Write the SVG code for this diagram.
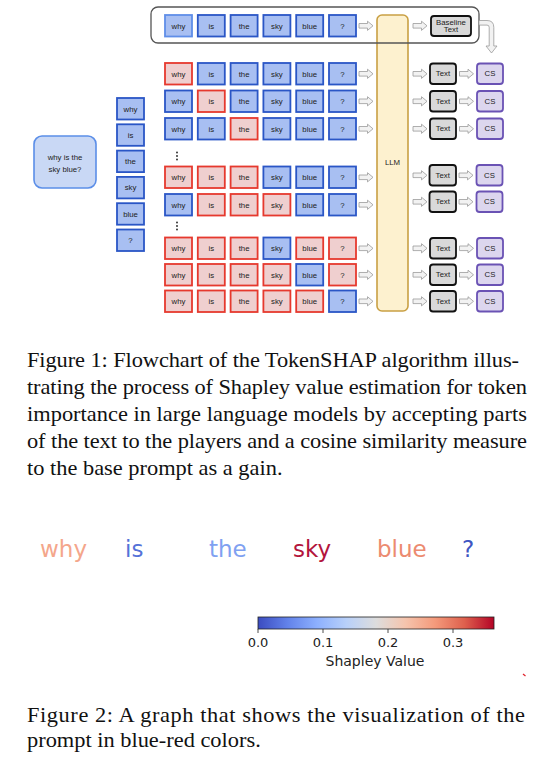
<svg xmlns="http://www.w3.org/2000/svg" width="537" height="758" viewBox="0 0 537 758">
<style>
.b{fill:#a8bff2;stroke:#2a56c6;stroke-width:1.8}
.r{fill:#efcfcf;stroke:#e6392e;stroke-width:1.8}
.tk{font-family:"Liberation Sans",Arial,sans-serif;font-size:7.8px;fill:#222;text-anchor:middle}
.tx{fill:#d9d9d9;stroke:#111;stroke-width:1.8}
.cs{fill:#dcd6ee;stroke:#6a52b4;stroke-width:1.8}
.ar{fill:#f2f2f2;stroke:#9a9a9a;stroke-width:0.8}
.cap{font-family:"Liberation Serif","Times New Roman",serif;font-size:20px;fill:#111}
.dj{font-family:"DejaVu Sans",sans-serif}
</style>
<defs>
<path id="ha" d="M0,-2.3 H8.5 V-4.6 L14,0 L8.5,4.6 V2.3 H0 Z"/>
<linearGradient id="cw" x1="0" y1="0" x2="1" y2="0">
<stop offset="0" stop-color="#3b4cc0"/>
<stop offset="0.125" stop-color="#6282ea"/>
<stop offset="0.25" stop-color="#8db0fe"/>
<stop offset="0.375" stop-color="#b8d0f9"/>
<stop offset="0.5" stop-color="#dddddd"/>
<stop offset="0.625" stop-color="#f5c4ad"/>
<stop offset="0.75" stop-color="#f49a7b"/>
<stop offset="0.875" stop-color="#de604d"/>
<stop offset="1" stop-color="#b40426"/>
</linearGradient>
</defs>

<!-- LLM -->
<g id="llm">
<rect x="377" y="15" width="31" height="296" rx="5" fill="#fdf1cf" stroke="#c9a044" stroke-width="1.6"/>
<text x="392.5" y="165" class="tk" font-size="7">LLM</text>
</g>

<!-- baseline container -->
<g id="baseline-group">
<rect x="151" y="7" width="328" height="36" rx="7" fill="none" stroke="#555" stroke-width="1.3"/>
</g>

<!-- input prompt -->
<g id="prompt">
<rect x="34" y="136" width="62" height="52" rx="8" fill="#c9d8f5" stroke="#5b8ee8" stroke-width="1.6"/>
<text x="65" y="160" class="tk" font-size="9.4">why is the</text>
<text x="65" y="171.5" class="tk" font-size="9.4">sky blue?</text>
</g>

<!-- token column -->
<g id="col-why"><rect class="b" x="117" y="98" width="27" height="21.5"/><text class="tk" x="130.5" y="111.5">why</text></g>
<g id="col-is"><rect class="b" x="117" y="124.3" width="27" height="21.5"/><text class="tk" x="130.5" y="137.8">is</text></g>
<g id="col-the"><rect class="b" x="117" y="150.6" width="27" height="21.5"/><text class="tk" x="130.5" y="164.1">the</text></g>
<g id="col-sky"><rect class="b" x="117" y="176.9" width="27" height="21.5"/><text class="tk" x="130.5" y="190.4">sky</text></g>
<g id="col-blue"><rect class="b" x="117" y="203.2" width="27" height="21.5"/><text class="tk" x="130.5" y="216.7">blue</text></g>
<g id="col-q"><rect class="b" x="117" y="229.5" width="27" height="21.5"/><text class="tk" x="130.5" y="243">?</text></g>

<!-- top baseline row -->
<g id="r0-why"><rect class="b" style="stroke:#5f8ee8" x="165" y="15" width="27" height="21.5"/><text class="tk" x="178.5" y="28.5">why</text></g>
<g id="r0-is"><rect class="b" x="197.8" y="15" width="27" height="21.5"/><text class="tk" x="211.3" y="28.5">is</text></g>
<g id="r0-the"><rect class="b" x="230.6" y="15" width="27" height="21.5"/><text class="tk" x="244.1" y="28.5">the</text></g>
<g id="r0-sky"><rect class="b" x="263.4" y="15" width="27" height="21.5"/><text class="tk" x="276.9" y="28.5">sky</text></g>
<g id="r0-blue"><rect class="b" x="296.2" y="15" width="27" height="21.5"/><text class="tk" x="309.7" y="28.5">blue</text></g>
<g id="r0-q"><rect class="b" x="329" y="15" width="27" height="21.5"/><text class="tk" x="342.5" y="28.5">?</text></g>
<g id="baseline-text"><rect class="tx" x="431" y="16" width="40" height="20" rx="3"/><text class="tk" x="451" y="24.5" font-size="6">Baseline</text><text class="tk" x="451" y="32" font-size="6">Text</text></g>

<!-- row 1 -->
<g id="r1-why"><rect class="r" x="165" y="63" width="27" height="21.5"/><text class="tk" x="178.5" y="76.5">why</text></g>
<g id="r1-is"><rect class="b" x="197.8" y="63" width="27" height="21.5"/><text class="tk" x="211.3" y="76.5">is</text></g>
<g id="r1-the"><rect class="b" x="230.6" y="63" width="27" height="21.5"/><text class="tk" x="244.1" y="76.5">the</text></g>
<g id="r1-sky"><rect class="b" x="263.4" y="63" width="27" height="21.5"/><text class="tk" x="276.9" y="76.5">sky</text></g>
<g id="r1-blue"><rect class="b" x="296.2" y="63" width="27" height="21.5"/><text class="tk" x="309.7" y="76.5">blue</text></g>
<g id="r1-q"><rect class="b" x="329" y="63" width="27" height="21.5"/><text class="tk" x="342.5" y="76.5">?</text></g>
<g id="r1-text"><rect class="tx" x="430" y="63.5" width="26" height="20.5" rx="3"/><text class="tk" x="443" y="76" font-size="6.4">Text</text></g>
<g id="r1-cs"><rect class="cs" x="477" y="63.5" width="26" height="20.5" rx="3"/><text class="tk" x="490" y="76.3" font-size="6.8">CS</text></g>

<!-- row 2 -->
<g id="r2-why"><rect class="b" x="165" y="90.5" width="27" height="21.5"/><text class="tk" x="178.5" y="104">why</text></g>
<g id="r2-is"><rect class="r" x="197.8" y="90.5" width="27" height="21.5"/><text class="tk" x="211.3" y="104">is</text></g>
<g id="r2-the"><rect class="b" x="230.6" y="90.5" width="27" height="21.5"/><text class="tk" x="244.1" y="104">the</text></g>
<g id="r2-sky"><rect class="b" x="263.4" y="90.5" width="27" height="21.5"/><text class="tk" x="276.9" y="104">sky</text></g>
<g id="r2-blue"><rect class="b" x="296.2" y="90.5" width="27" height="21.5"/><text class="tk" x="309.7" y="104">blue</text></g>
<g id="r2-q"><rect class="b" x="329" y="90.5" width="27" height="21.5"/><text class="tk" x="342.5" y="104">?</text></g>
<g id="r2-text"><rect class="tx" x="430" y="91" width="26" height="20.5" rx="3"/><text class="tk" x="443" y="103.5" font-size="6.4">Text</text></g>
<g id="r2-cs"><rect class="cs" x="477" y="91" width="26" height="20.5" rx="3"/><text class="tk" x="490" y="103.8" font-size="6.8">CS</text></g>

<!-- row 3 -->
<g id="r3-why"><rect class="b" x="165" y="118" width="27" height="21.5"/><text class="tk" x="178.5" y="131.5">why</text></g>
<g id="r3-is"><rect class="b" x="197.8" y="118" width="27" height="21.5"/><text class="tk" x="211.3" y="131.5">is</text></g>
<g id="r3-the"><rect class="r" x="230.6" y="118" width="27" height="21.5"/><text class="tk" x="244.1" y="131.5">the</text></g>
<g id="r3-sky"><rect class="b" x="263.4" y="118" width="27" height="21.5"/><text class="tk" x="276.9" y="131.5">sky</text></g>
<g id="r3-blue"><rect class="b" x="296.2" y="118" width="27" height="21.5"/><text class="tk" x="309.7" y="131.5">blue</text></g>
<g id="r3-q"><rect class="b" x="329" y="118" width="27" height="21.5"/><text class="tk" x="342.5" y="131.5">?</text></g>
<g id="r3-text"><rect class="tx" x="430" y="118.5" width="26" height="20.5" rx="3"/><text class="tk" x="443" y="131" font-size="6.4">Text</text></g>
<g id="r3-cs"><rect class="cs" x="477" y="118.5" width="26" height="20.5" rx="3"/><text class="tk" x="490" y="131.3" font-size="6.8">CS</text></g>

<g id="dots1" fill="#222"><circle cx="177" cy="152.5" r="0.9"/><circle cx="177" cy="156" r="0.9"/><circle cx="177" cy="159.5" r="0.9"/></g>

<!-- row 4 -->
<g id="r4-why"><rect class="r" x="165" y="166.5" width="27" height="21.5"/><text class="tk" x="178.5" y="180">why</text></g>
<g id="r4-is"><rect class="r" x="197.8" y="166.5" width="27" height="21.5"/><text class="tk" x="211.3" y="180">is</text></g>
<g id="r4-the"><rect class="r" x="230.6" y="166.5" width="27" height="21.5"/><text class="tk" x="244.1" y="180">the</text></g>
<g id="r4-sky"><rect class="b" x="263.4" y="166.5" width="27" height="21.5"/><text class="tk" x="276.9" y="180">sky</text></g>
<g id="r4-blue"><rect class="b" x="296.2" y="166.5" width="27" height="21.5"/><text class="tk" x="309.7" y="180">blue</text></g>
<g id="r4-q"><rect class="b" x="329" y="166.5" width="27" height="21.5"/><text class="tk" x="342.5" y="180">?</text></g>
<g id="r4-text"><rect class="tx" x="429.5" y="165" width="26.5" height="20.5" rx="3"/><text class="tk" x="442.7" y="177.5" font-size="6.4">Text</text></g>
<g id="r4-cs"><rect class="cs" x="476.5" y="165" width="26" height="20.5" rx="3"/><text class="tk" x="489.5" y="177.8" font-size="6.8">CS</text></g>

<!-- row 5 -->
<g id="r5-why"><rect class="b" x="165" y="194" width="27" height="21.5"/><text class="tk" x="178.5" y="207.5">why</text></g>
<g id="r5-is"><rect class="r" x="197.8" y="194" width="27" height="21.5"/><text class="tk" x="211.3" y="207.5">is</text></g>
<g id="r5-the"><rect class="r" x="230.6" y="194" width="27" height="21.5"/><text class="tk" x="244.1" y="207.5">the</text></g>
<g id="r5-sky"><rect class="r" x="263.4" y="194" width="27" height="21.5"/><text class="tk" x="276.9" y="207.5">sky</text></g>
<g id="r5-blue"><rect class="b" x="296.2" y="194" width="27" height="21.5"/><text class="tk" x="309.7" y="207.5">blue</text></g>
<g id="r5-q"><rect class="b" x="329" y="194" width="27" height="21.5"/><text class="tk" x="342.5" y="207.5">?</text></g>
<g id="r5-text"><rect class="tx" x="429.5" y="191.5" width="26.5" height="20.5" rx="3"/><text class="tk" x="442.7" y="204" font-size="6.4">Text</text></g>
<g id="r5-cs"><rect class="cs" x="476.5" y="191.5" width="26" height="20.5" rx="3"/><text class="tk" x="489.5" y="204.3" font-size="6.8">CS</text></g>

<g id="dots2" fill="#222"><circle cx="177" cy="222.5" r="0.9"/><circle cx="177" cy="226" r="0.9"/><circle cx="177" cy="229.5" r="0.9"/></g>

<!-- row 6 -->
<g id="r6-why"><rect class="r" x="165" y="237.5" width="27" height="21.5"/><text class="tk" x="178.5" y="251">why</text></g>
<g id="r6-is"><rect class="r" x="197.8" y="237.5" width="27" height="21.5"/><text class="tk" x="211.3" y="251">is</text></g>
<g id="r6-the"><rect class="r" x="230.6" y="237.5" width="27" height="21.5"/><text class="tk" x="244.1" y="251">the</text></g>
<g id="r6-sky"><rect class="b" x="263.4" y="237.5" width="27" height="21.5"/><text class="tk" x="276.9" y="251">sky</text></g>
<g id="r6-blue"><rect class="r" x="296.2" y="237.5" width="27" height="21.5"/><text class="tk" x="309.7" y="251">blue</text></g>
<g id="r6-q"><rect class="r" x="329" y="237.5" width="27" height="21.5"/><text class="tk" x="342.5" y="251">?</text></g>
<g id="r6-text"><rect class="tx" x="430" y="238" width="26" height="20.5" rx="3"/><text class="tk" x="443" y="250.5" font-size="6.4">Text</text></g>
<g id="r6-cs"><rect class="cs" x="477" y="238" width="26" height="20.5" rx="3"/><text class="tk" x="490" y="250.8" font-size="6.8">CS</text></g>

<!-- row 7 -->
<g id="r7-why"><rect class="r" x="165" y="264" width="27" height="21.5"/><text class="tk" x="178.5" y="277.5">why</text></g>
<g id="r7-is"><rect class="r" x="197.8" y="264" width="27" height="21.5"/><text class="tk" x="211.3" y="277.5">is</text></g>
<g id="r7-the"><rect class="r" x="230.6" y="264" width="27" height="21.5"/><text class="tk" x="244.1" y="277.5">the</text></g>
<g id="r7-sky"><rect class="r" x="263.4" y="264" width="27" height="21.5"/><text class="tk" x="276.9" y="277.5">sky</text></g>
<g id="r7-blue"><rect class="b" x="296.2" y="264" width="27" height="21.5"/><text class="tk" x="309.7" y="277.5">blue</text></g>
<g id="r7-q"><rect class="r" x="329" y="264" width="27" height="21.5"/><text class="tk" x="342.5" y="277.5">?</text></g>
<g id="r7-text"><rect class="tx" x="430" y="264.5" width="26" height="20.5" rx="3"/><text class="tk" x="443" y="277" font-size="6.4">Text</text></g>
<g id="r7-cs"><rect class="cs" x="477" y="264.5" width="26" height="20.5" rx="3"/><text class="tk" x="490" y="277.3" font-size="6.8">CS</text></g>

<!-- row 8 -->
<g id="r8-why"><rect class="r" x="165" y="290.5" width="27" height="21.5"/><text class="tk" x="178.5" y="304">why</text></g>
<g id="r8-is"><rect class="r" x="197.8" y="290.5" width="27" height="21.5"/><text class="tk" x="211.3" y="304">is</text></g>
<g id="r8-the"><rect class="r" x="230.6" y="290.5" width="27" height="21.5"/><text class="tk" x="244.1" y="304">the</text></g>
<g id="r8-sky"><rect class="r" x="263.4" y="290.5" width="27" height="21.5"/><text class="tk" x="276.9" y="304">sky</text></g>
<g id="r8-blue"><rect class="r" x="296.2" y="290.5" width="27" height="21.5"/><text class="tk" x="309.7" y="304">blue</text></g>
<g id="r8-q"><rect class="b" x="329" y="290.5" width="27" height="21.5"/><text class="tk" x="342.5" y="304">?</text></g>
<g id="r8-text"><rect class="tx" x="430" y="291" width="26" height="20.5" rx="3"/><text class="tk" x="443" y="303.5" font-size="6.4">Text</text></g>
<g id="r8-cs"><rect class="cs" x="477" y="291" width="26" height="20.5" rx="3"/><text class="tk" x="490" y="303.8" font-size="6.8">CS</text></g>

<!-- connectors -->
<g id="connectors" class="ar">
<use href="#ha" x="359" y="25.8"/><use href="#ha" x="413" y="25.8"/>
<path d="M479,20.5 H487 Q493.8,20.5 493.8,27.3 V46 H497 L491.5,53 L486,46 H489.2 V27.3 Q489.2,25.1 487,25.1 H479 Z"/>
<use href="#ha" x="359" y="73.8"/><use href="#ha" x="413" y="73.8"/><use href="#ha" x="459.5" y="73.8"/>
<use href="#ha" x="359" y="101.3"/><use href="#ha" x="413" y="101.3"/><use href="#ha" x="459.5" y="101.3"/>
<use href="#ha" x="359" y="128.8"/><use href="#ha" x="413" y="128.8"/><use href="#ha" x="459.5" y="128.8"/>
<use href="#ha" x="359" y="177.3"/><use href="#ha" x="413" y="175.3"/><use href="#ha" x="459" y="175.3"/>
<use href="#ha" x="359" y="204.8"/><use href="#ha" x="413" y="201.8"/><use href="#ha" x="459" y="201.8"/>
<use href="#ha" x="359" y="248.3"/><use href="#ha" x="413" y="248.3"/><use href="#ha" x="459.5" y="248.3"/>
<use href="#ha" x="359" y="274.8"/><use href="#ha" x="413" y="274.8"/><use href="#ha" x="459.5" y="274.8"/>
<use href="#ha" x="359" y="301.3"/><use href="#ha" x="413" y="301.3"/><use href="#ha" x="459.5" y="301.3"/>
</g>

<!-- caption 1 -->
<g id="caption1" class="cap" transform="matrix(1.12,0,0,1,27,0)">
<text x="0" y="367" textLength="439.3" lengthAdjust="spacing">Figure 1: Flowchart of the TokenSHAP algorithm illus-</text>
<text x="0" y="394" textLength="446.4" lengthAdjust="spacing">trating the process of Shapley value estimation for token</text>
<text x="0" y="421" textLength="446.4" lengthAdjust="spacing">importance in large language models by accepting parts</text>
<text x="0" y="448" textLength="446.4" lengthAdjust="spacing">of the text to the players and a cosine similarity measure</text>
<text x="0" y="475">to the base prompt as a gain.</text>
</g>

<!-- figure 2 tokens -->
<g id="fig2-tokens" class="dj" font-size="23">
<text x="40" y="557" fill="#f4a68b">why</text>
<text x="125" y="557" fill="#5572d8">is</text>
<text x="209" y="557" fill="#7fa1f1">the</text>
<text x="293" y="557" fill="#b3153c">sky</text>
<text x="377" y="557" fill="#ec8b70">blue</text>
<text x="462" y="557" fill="#3e56c2">?</text>
</g>

<!-- colorbar -->
<g id="colorbar">
<rect x="258" y="617" width="236" height="12" fill="url(#cw)" stroke="#222" stroke-width="0.8"/>
<g stroke="#222" stroke-width="0.8">
<line x1="258" y1="629" x2="258" y2="633"/><line x1="323" y1="629" x2="323" y2="633"/><line x1="388" y1="629" x2="388" y2="633"/><line x1="453" y1="629" x2="453" y2="633"/>
</g>
<g class="dj" fill="#222" text-anchor="middle">
<text x="258" y="647" font-size="13">0.0</text><text x="323" y="647" font-size="13">0.1</text><text x="388" y="647" font-size="13">0.2</text><text x="453" y="647" font-size="13">0.3</text>
<text x="375" y="666" font-size="14">Shapley Value</text>
</g>
<path d="M523,674 L525.5,676" stroke="#e0202a" stroke-width="1.3"/>
</g>

<!-- caption 2 -->
<g id="caption2" class="cap" transform="matrix(1.12,0,0,1,27,0)">
<text x="0" y="722" textLength="444.6" lengthAdjust="spacing">Figure 2: A graph that shows the visualization of the</text>
<text x="0" y="747">prompt in blue-red colors.</text>
</g>
</svg>
